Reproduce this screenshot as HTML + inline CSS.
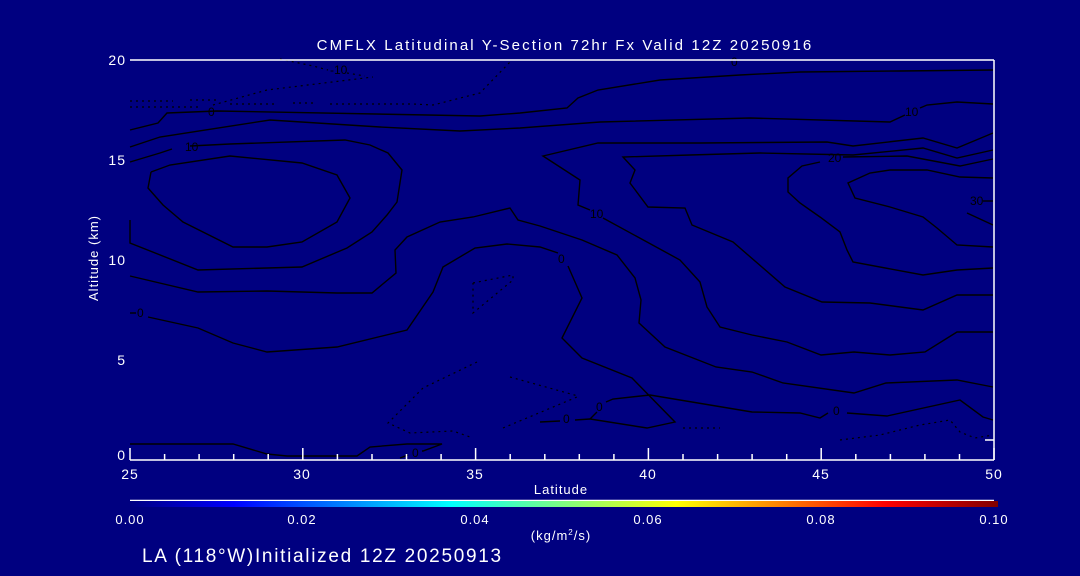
<!DOCTYPE html>
<html><head><meta charset="utf-8"><style>
html,body{margin:0;padding:0;background:#000080;}
svg{display:block;}
text{font-family:"Liberation Sans",sans-serif;fill:#fff;}
</style></head><body>
<svg width="1080" height="576" viewBox="0 0 1080 576" xmlns="http://www.w3.org/2000/svg">
<defs>
<linearGradient id="jet" x1="0" x2="1" y1="0" y2="0">
<stop offset="0" stop-color="#000080"/>
<stop offset="0.12" stop-color="#0000ff"/>
<stop offset="0.37" stop-color="#00ffff"/>
<stop offset="0.5" stop-color="#80ff80"/>
<stop offset="0.63" stop-color="#ffff00"/>
<stop offset="0.87" stop-color="#ff0000"/>
<stop offset="1" stop-color="#800000"/>
</linearGradient>
</defs>
<rect width="1080" height="576" fill="#000080"/>
<g fill="none" stroke="#000" stroke-width="1.4">
<polyline points="130,130 158,123 167,113 217,111 480,116 520,113 567,108 578,98 598,90 660,80 740,75 800,72 900,71 993,70"/>
<polyline points="130,147 160,137 270,120 380,127 460,131 520,128 600,122 750,118 890,122 905,115"/>
<polyline points="920,108 927,105 957,102 993,104"/>
<polyline points="130,162 160,153 172,149"/><polyline points="190,146 230,144 345,140 370,145 388,153 402,170 397,202 387,215 372,232 347,248 302,267 267,268 198,270 130,243 130,220"/>
<polyline points="151,172 170,165 230,156 302,163 337,175 350,198 337,222 302,242 267,247 233,247 183,222 163,205 148,188 151,172"/>
<polyline points="993,133 957,148 923,138 853,146 827,142 700,143 598,143 543,156 580,180 578,205 590,210"/>
<polyline points="603,218 680,260 700,282 707,307 720,327 752,335 787,342 821,355 854,352 890,355 925,352 957,332 993,332"/>
<polyline points="993,150 957,158 923,148 853,155 760,153 690,155 623,157 635,170 630,183 648,207 685,208 692,225 733,242 785,287 822,302 870,303 923,310 957,295 993,295"/>
<polyline points="993,159 960,166 907,156 843,157"/><polyline points="820,162 802,166 788,178 788,192 800,203 820,217 840,232 847,250 853,262 923,275 957,270 993,268"/>
<polyline points="993,178 960,177 927,170 890,170 870,173 848,183 855,198 890,207 923,217 937,228 957,245 993,247"/>
<polyline points="967,213 993,225"/><polyline points="983,201 993,201"/>
<polyline points="130,276 198,292 267,291 337,293 372,293 396,273 395,250 407,237 440,222 473,217 510,208 518,220 540,226 582,240 617,255 635,278 641,300 639,323 665,347 716,367 752,372 783,383 854,393 886,383 957,380 993,387"/>
<polyline points="130,313 136,313"/><polyline points="148,317 198,328 233,343 267,352 337,347 407,330 433,292 443,267 475,248 507,244 540,247 558,253"/>
<polyline points="568,266 582,298 562,338 582,358 632,378 675,422 647,428 590,419 597,412"/>
<polyline points="606,402 613,399 650,395 752,412 800,413 820,418 828,413"/><polyline points="847,413 887,416 960,400 983,417 993,420"/>
<polyline points="540,422 560,421"/><polyline points="575,420 590,419"/>
<polyline points="130,444 233,444 267,454 287,456 357,456 370,447 407,444 442,444 423,451 422,451"/><polyline points="408,455 400,458"/>
</g>
<g fill="none" stroke="#000" stroke-width="1.2" stroke-dasharray="2,4">
<polyline points="130,101 173,101"/><polyline points="190,100 220,100"/><polyline points="230,104 277,104"/><polyline points="293,103 313,103"/><polyline points="330,104 413,104 433,105 480,93 510,62"/>
<polyline points="130,107 200,107"/>
<polyline points="213,105 267,90 373,77"/>
<polyline points="280,59 313,66 328,70"/><polyline points="347,73 365,76"/>
<polyline points="473,283 513,275 513,280 473,313 473,283"/>
<polyline points="477,362 423,388 388,423 410,433 453,431 470,437"/>
<polyline points="510,377 578,396"/><polyline points="503,428 577,397"/>
<polyline points="683,428 720,428"/>
<polyline points="840,440 880,435 920,425 950,420 960,432 975,438 993,435"/>
</g>
<g font-size="12" style="fill:#000">
<text x="330" y="74" style="fill:#000">-10</text>
<text x="208" y="116" style="fill:#000">0</text>
<text x="185" y="151" style="fill:#000">10</text>
<text x="731" y="66" style="fill:#000">0</text>
<text x="905" y="116" style="fill:#000">10</text>
<text x="828" y="162" style="fill:#000">20</text>
<text x="590" y="218" style="fill:#000">10</text>
<text x="970" y="205" style="fill:#000">30</text>
<text x="558" y="263" style="fill:#000">0</text>
<text x="596" y="411" style="fill:#000">0</text>
<text x="563" y="423" style="fill:#000">0</text>
<text x="833" y="415" style="fill:#000">0</text>
<text x="412" y="457" style="fill:#000">0</text>
<text x="137" y="317" style="fill:#000">0</text>
</g>
<g stroke="#fff" stroke-width="1.5" fill="none">
<line x1="130" y1="60" x2="994" y2="60"/>
<line x1="130" y1="460" x2="994" y2="460"/>
<line x1="994" y1="60" x2="994" y2="460"/>
<line x1="985" y1="440" x2="994" y2="440"/>
<path d="M130,460v-12M302.8,460v-12M475.6,460v-12M648.4,460v-12M821.2,460v-12M994,460v-12
M164.6,460v-6M199.1,460v-6M233.7,460v-6M268.2,460v-6M337.4,460v-6M372,460v-6M406.5,460v-6M441.1,460v-6M510.2,460v-6M544.8,460v-6M579.3,460v-6M613.9,460v-6M683,460v-6M717.6,460v-6M752.1,460v-6M786.7,460v-6M855.8,460v-6M890.4,460v-6M924.9,460v-6M959.5,460v-6"/>
<line x1="130" y1="500.5" x2="994" y2="500.5"/>
</g>
<rect x="130" y="501" width="868" height="6" fill="url(#jet)"/>
<g font-size="14" text-anchor="end" letter-spacing="1">
<text x="126" y="65">20</text><text x="126" y="165">15</text><text x="126" y="265">10</text><text x="126" y="365">5</text><text x="126" y="460">0</text>
</g>
<g font-size="14" text-anchor="middle" letter-spacing="1">
<text x="130" y="479">25</text><text x="302" y="479">30</text><text x="475" y="479">35</text><text x="648" y="479">40</text><text x="821" y="479">45</text><text x="994" y="479">50</text>
<text x="561" y="494" font-size="13">Latitude</text>
<text x="130" y="524" font-size="13">0.00</text><text x="302" y="524" font-size="13">0.02</text><text x="475" y="524" font-size="13">0.04</text><text x="648" y="524" font-size="13">0.06</text><text x="821" y="524" font-size="13">0.08</text><text x="994" y="524" font-size="13">0.10</text>
<text x="561" y="540" font-size="13">(kg/m<tspan font-size="8" dy="-5">2</tspan><tspan dy="5">/s)</tspan></text>
<text x="565" y="50" font-size="15" letter-spacing="2.1">CMFLX Latitudinal Y-Section 72hr  Fx Valid 12Z 20250916</text>
</g>
<text transform="translate(98,258) rotate(-90)" font-size="13" text-anchor="middle" letter-spacing="1">Altitude (km)</text>
<text x="142" y="562" font-size="19" letter-spacing="1.7">LA (118°W)Initialized 12Z 20250913</text>
</svg>
</body></html>
